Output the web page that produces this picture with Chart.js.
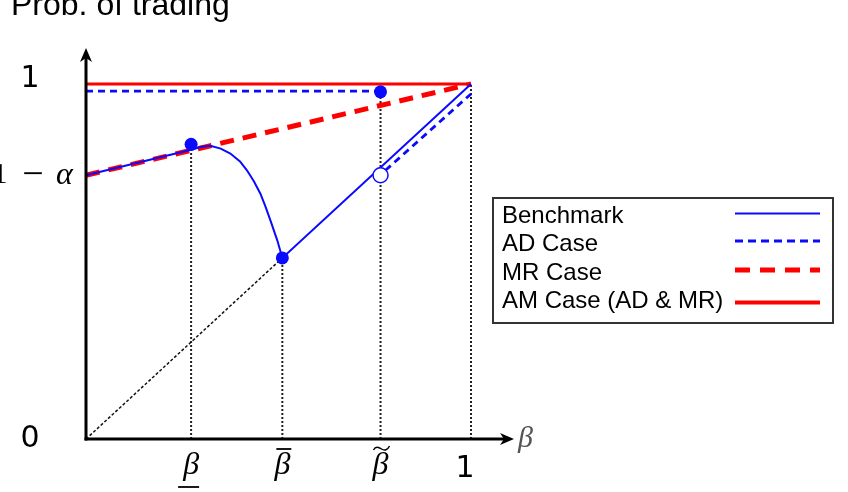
<!DOCTYPE html>
<html><head><meta charset="utf-8">
<script src="https://cdn.jsdelivr.net/npm/chart.js@4/dist/chart.umd.min.js"></script>
<style>html,body{margin:0;padding:0;background:#fff}</style>
</head><body>
<canvas id="c" width="848" height="492"></canvas>
<script>
// ---- data ----
const betaLow = 0.273, betaBar = 0.51, betaTilde = 0.765, oneMinusAlpha = 0.743;

const benchmarkX = [0, 0.273, 0.300, 0.323, 0.350, 0.375, 0.400, 0.418, 0.436, 0.453, 0.466, 0.479, 0.497, 0.510, 1];
const benchmarkY = [0.743, 0.815, 0.823, 0.826, 0.818, 0.804, 0.782, 0.757, 0.726, 0.691, 0.655, 0.616, 0.559, 0.510, 1];

const adX = [0, 0.765, 0.765, 0.778, 1];
const adY = [0.98, 0.98, null, 0.757, 0.972];

const mrX = [0, 1];
const mrY = [0.743, 1];

const amX = [0, 1];
const amY = [1, 1];

const diagX = [0, 0.51];
const diagY = [0, 0.51];

const guideX = [0.273, 0.273, 0.273, 0.51, 0.51, 0.51, 0.765, 0.765, 0.765, 1, 1];
const guideY = [0, 0.815, null, 0, 0.51, null, 0, 0.98, null, 0, 1];

const filledDotX = [0.273, 0.51, 0.765];
const filledDotY = [0.83, 0.51, 0.978];
const openDotX = [0.765];
const openDotY = [0.743];

const yTickValues = [0, 0.743, 1];
const yTickLabels = ['0', '1 − α', '1'];
const xTickValues = [0.273, 0.51, 0.765, 1];
const xTickLabels = ['β', 'β', 'β', '1'];
const xTickAccents = ['under', 'bar', 'tilde', null];

const legendLabels = ['Benchmark', 'AD Case', 'MR Case', 'AM Case (AD & MR)'];
const yAxisTitle = 'Prob. of trading';
const xAxisTitle = 'β';

// ---- build ----
const pts = (xs, ys) => xs.map((x, i) => ({x: x, y: ys[i]}));
const BLUE = '#0a0aff', RED = '#ff0000';

const datasets = [
  {label: 'open', data: pts(openDotX, openDotY), showLine: false, pointRadius: 7.5, pointBackgroundColor: '#fff', pointBorderColor: BLUE, pointBorderWidth: 1.5, clip: false},
  {label: 'dots', data: pts(filledDotX, filledDotY), showLine: false, pointRadius: 6.5, pointBackgroundColor: BLUE, pointBorderColor: BLUE, pointBorderWidth: 0, clip: false},
  {label: legendLabels[0], data: pts(benchmarkX, benchmarkY), showLine: true, borderColor: BLUE, borderWidth: 2, pointRadius: 0, tension: 0, clip: false},
  {label: legendLabels[1], data: pts(adX, adY), showLine: true, borderColor: BLUE, borderWidth: 2.8, borderDash: [7, 5], pointRadius: 0, spanGaps: false, clip: false},
  {label: legendLabels[2], data: pts(mrX, mrY), showLine: true, borderColor: RED, borderWidth: 5, borderDash: [14, 9], pointRadius: 0, clip: false},
  {label: legendLabels[3], data: pts(amX, amY), showLine: true, borderColor: RED, borderWidth: 3, pointRadius: 0, clip: false},
  {label: 'diag', data: pts(diagX, diagY), showLine: true, borderColor: '#111', borderWidth: 1.5, borderDash: [3, 2], pointRadius: 0, clip: false},
  {label: 'guides', data: pts(guideX, guideY), showLine: true, borderColor: '#222', borderWidth: 2, borderDash: [2, 2], pointRadius: 0, spanGaps: false, clip: false}
];

const overlay = {
  id: 'overlay',
  afterDatasetsDraw(chart) {
    const ctx = chart.ctx, xs = chart.scales.x, ys = chart.scales.y;
    const X = v => xs.getPixelForValue(v), Y = v => ys.getPixelForValue(v);
    const ox = X(0), oy = Y(0);
    ctx.save();
    // axes
    ctx.strokeStyle = '#000'; ctx.fillStyle = '#000'; ctx.lineWidth = 3;
    ctx.beginPath(); ctx.moveTo(ox, oy + 1.5); ctx.lineTo(ox, Y(1) - 26); ctx.stroke();
    ctx.beginPath(); ctx.moveTo(ox - 1.5, oy); ctx.lineTo(X(1) + 33, oy); ctx.stroke();
    // arrowheads
    let tipY = Y(1) - 36;
    ctx.beginPath(); ctx.moveTo(ox, tipY); ctx.lineTo(ox + 6, tipY + 14); ctx.lineTo(ox, tipY + 10); ctx.lineTo(ox - 6, tipY + 14); ctx.closePath(); ctx.fill();
    let tipX = X(1) + 43;
    ctx.beginPath(); ctx.moveTo(tipX, oy); ctx.lineTo(tipX - 14, oy - 6); ctx.lineTo(tipX - 10, oy); ctx.lineTo(tipX - 14, oy + 6); ctx.closePath(); ctx.fill();

    // y tick labels
    ctx.textBaseline = 'middle';
    ctx.textAlign = 'center';
    ctx.font = '30px "DejaVu Sans"';
    ctx.fillText(yTickLabels[0], ox - 56, Y(yTickValues[0]));
    ctx.fillText(yTickLabels[2], ox - 56, Y(yTickValues[2]) - 5);
    // 1 − α
    const parts = yTickLabels[1].split(' ');
    const ly = Y(yTickValues[1]);
    ctx.font = '30px "Liberation Serif"';
    ctx.textAlign = 'center';
    ctx.fillText(parts[0], 0, ly);
    ctx.font = '38px "Liberation Serif"';
    ctx.fillText(parts[1], 33, ly + 1);
    ctx.font = 'italic 32px "Liberation Serif"';
    ctx.textAlign = 'left';
    ctx.fillText(parts[2], 56, ly);

    // x tick labels
    ctx.textBaseline = 'alphabetic';
    xTickValues.forEach((v, i) => {
      const px = X(v);
      ctx.textAlign = 'center';
      if (xTickAccents[i] === null) {
        ctx.font = '30px "DejaVu Sans"';
        ctx.fillText(xTickLabels[i], px - 6, oy + 38);
        return;
      }
      ctx.font = 'italic 32px "Liberation Serif"';
      ctx.fillText(xTickLabels[i], px, oy + 35);
      ctx.lineWidth = 1.8; ctx.strokeStyle = '#000';
      if (xTickAccents[i] === 'under') {
        ctx.beginPath(); ctx.moveTo(px - 13, oy + 48); ctx.lineTo(px + 8, oy + 48); ctx.stroke();
      } else if (xTickAccents[i] === 'bar') {
        ctx.beginPath(); ctx.moveTo(px - 6, oy + 10); ctx.lineTo(px + 9, oy + 10); ctx.stroke();
      } else if (xTickAccents[i] === 'tilde') {
        const ty = oy + 9;
        ctx.lineWidth = 1.5;
        ctx.beginPath(); ctx.moveTo(px - 7, ty + 2);
        ctx.bezierCurveTo(px - 5, ty - 2, px - 2, ty - 1, px + 1, ty + 1);
        ctx.bezierCurveTo(px + 4, ty + 3, px + 7, ty + 2, px + 9, ty - 2);
        ctx.stroke();
      }
    });
    // x axis title
    ctx.font = 'italic 30px "Liberation Serif"';
    ctx.textAlign = 'left';
    ctx.fillStyle = '#555';
    ctx.fillText(xAxisTitle, X(1) + 47, oy + 8);
    ctx.fillStyle = '#000';

    // y axis title
    ctx.font = '32px "Liberation Sans"';
    ctx.textAlign = 'left';
    ctx.fillText(yAxisTitle, 11, 15);

    // legend
    const lx = 493, ly0 = 198, lw = 340, lh = 125;
    ctx.fillStyle = '#fff';
    ctx.fillRect(lx, ly0, lw, lh);
    ctx.lineWidth = 2; ctx.strokeStyle = '#333';
    ctx.strokeRect(lx, ly0, lw, lh);
    const rows = [216.5, 244, 273, 301.5];
    const styles = [
      {c: BLUE, w: 2, d: []},
      {c: BLUE, w: 3, d: [8, 5]},
      {c: RED, w: 5, d: [15, 10]},
      {c: RED, w: 4, d: []}
    ];
    ctx.font = '24px "Liberation Sans"';
    ctx.textBaseline = 'middle';
    ctx.fillStyle = '#000';
    legendLabels.forEach((t, i) => {
      ctx.fillText(t, 502, rows[i]);
      const s = styles[i];
      ctx.strokeStyle = s.c; ctx.lineWidth = s.w; ctx.setLineDash(s.d);
      const yy = rows[i] - 3 + (i === 3 ? 4 : 0);
      ctx.beginPath(); ctx.moveTo(735, yy); ctx.lineTo(820, yy); ctx.stroke();
    });
    ctx.setLineDash([]);
    ctx.restore();
  }
};

new Chart(document.getElementById('c'), {
  type: 'scatter',
  data: {datasets: datasets},
  options: {
    responsive: false,
    devicePixelRatio: 1,
    animation: false,
    layout: {padding: {left: 86, right: 377, top: 84, bottom: 53}},
    plugins: {legend: {display: false}, tooltip: {enabled: false}},
    scales: {
      x: {type: 'linear', min: 0, max: 1, display: false},
      y: {type: 'linear', min: 0, max: 1, display: false}
    }
  },
  plugins: [overlay]
});
</script>
</body></html>
